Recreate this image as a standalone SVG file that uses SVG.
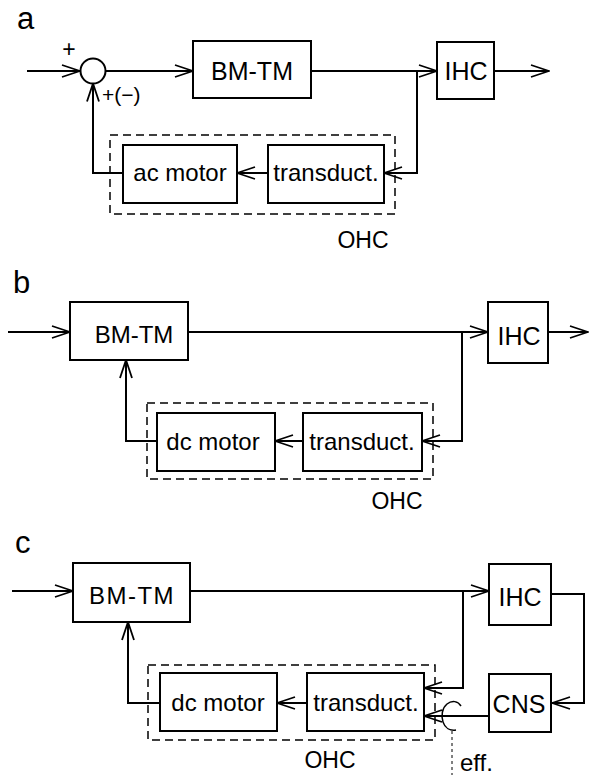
<svg xmlns="http://www.w3.org/2000/svg" width="592" height="775" viewBox="0 0 592 775">
<style>
.box{fill:none;stroke:#000;stroke-width:2}
.ohc{fill:none;stroke:#000;stroke-width:1.5;stroke-dasharray:8,5}
.ln{fill:none;stroke:#000;stroke-width:2}
.t{font-family:"Liberation Sans",Arial,sans-serif;font-size:24px;fill:#000;text-anchor:middle}
.lab{font-family:"Liberation Sans",Arial,sans-serif;font-size:31px;fill:#000}
.s{font-family:"Liberation Sans",Arial,sans-serif;font-size:23px;fill:#000}
</style>
<defs>
<marker id="ar" markerUnits="userSpaceOnUse" viewBox="0 0 20 14" markerWidth="20" markerHeight="14" refX="19" refY="7" orient="auto">
<path d="M1,1 L19,7 L1,13" fill="none" stroke="#000" stroke-width="1.8"/>
</marker>
</defs>
<rect width="592" height="775" fill="#fff"/>

<!-- Panel a -->
<text class="lab" x="17" y="29">a</text>
<g id="a-sum"><circle cx="93" cy="71" r="12.5" class="box"/></g>
<text class="s" x="69" y="57" text-anchor="middle">+</text>
<text class="s" x="102" y="102" style="font-size:21px">+(−)</text>
<g id="a-bmtm"><rect class="box" x="193" y="41" width="118" height="57"/><text class="t" x="252" y="80" style="font-size:25px">BM-TM</text></g>
<g id="a-ihc"><rect class="box" x="437" y="42" width="57" height="57"/><text class="t" x="466" y="80" style="font-size:25px">IHC</text></g>
<g id="a-ohc"><rect class="ohc" x="110" y="135" width="285" height="79"/><text class="s" x="363" y="248" text-anchor="middle">OHC</text></g>
<g id="a-acmotor"><rect class="box" x="123" y="145" width="114" height="58"/><text class="t" x="180" y="181">ac motor</text></g>
<g id="a-transduct"><rect class="box" x="268" y="145" width="116" height="58"/><text class="t" x="326" y="181">transduct.</text></g>

<!-- Panel b -->
<text class="lab" x="13" y="293">b</text>
<g id="b-bmtm"><rect class="box" x="70" y="302" width="118" height="58"/><text class="t" x="134" y="343">BM-TM</text></g>
<g id="b-ihc"><rect class="box" x="488" y="302" width="60" height="61"/><text class="t" x="519" y="345" style="font-size:25px">IHC</text></g>
<g id="b-ohc"><rect class="ohc" x="147" y="403" width="286" height="76"/><text class="s" x="397" y="509" text-anchor="middle">OHC</text></g>
<g id="b-dcmotor"><rect class="box" x="157" y="413" width="118" height="58"/><text class="t" x="213" y="450">dc motor</text></g>
<g id="b-transduct"><rect class="box" x="303" y="413" width="119" height="58"/><text class="t" x="362" y="450">transduct.</text></g>

<!-- Panel c -->
<text class="lab" x="15" y="553">c</text>
<g id="c-bmtm"><rect class="box" x="73" y="563" width="117" height="59"/><text class="t" x="132" y="604" style="letter-spacing:1.5px">BM-TM</text></g>
<g id="c-ihc"><rect class="box" x="489" y="564" width="62" height="61"/><text class="t" x="520" y="606" style="font-size:25px">IHC</text></g>
<g id="c-cns"><rect class="box" x="489" y="674" width="62" height="58"/><text class="t" x="519" y="713" style="font-size:25px">CNS</text></g>
<g id="c-ohc"><rect class="ohc" x="148" y="665" width="287" height="75"/><text class="s" x="330" y="768" text-anchor="middle">OHC</text></g>
<g id="c-dcmotor"><rect class="box" x="160" y="673" width="117" height="58"/><text class="t" x="218" y="711">dc motor</text></g>
<g id="c-transduct"><rect class="box" x="307" y="673" width="117" height="58"/><text class="t" x="366" y="711">transduct.</text></g>
<g id="c-eff"><text class="s" x="460" y="771" style="font-size:24px">eff.</text></g>

<g id="connectors">
<!-- a -->
<path class="ln" d="M27,71 H80" marker-end="url(#ar)"/>
<path class="ln" d="M105.5,71 H193" marker-end="url(#ar)"/>
<path class="ln" d="M311,71 H437" marker-end="url(#ar)"/>
<path class="ln" d="M494,71 H549" marker-end="url(#ar)"/>
<path class="ln" d="M417,71 V173 H384" marker-end="url(#ar)"/>
<path class="ln" d="M268,173 H237" marker-end="url(#ar)"/>
<path class="ln" d="M123,173 H93 V83.5" marker-end="url(#ar)"/>
<!-- b -->
<path class="ln" d="M8,332 H70" marker-end="url(#ar)"/>
<path class="ln" d="M188,332 H488" marker-end="url(#ar)"/>
<path class="ln" d="M548,332 H588" marker-end="url(#ar)"/>
<path class="ln" d="M462,332 V441 H422" marker-end="url(#ar)"/>
<path class="ln" d="M303,441 H275" marker-end="url(#ar)"/>
<path class="ln" d="M157,441 H126 V360" marker-end="url(#ar)"/>
<!-- c -->
<path class="ln" d="M12,591 H73" marker-end="url(#ar)"/>
<path class="ln" d="M190,591 H489" marker-end="url(#ar)"/>
<path class="ln" d="M551,594 H584 V703 H552" marker-end="url(#ar)"/>
<path class="ln" d="M463,591 V688 H424" marker-end="url(#ar)"/>
<path class="ln" d="M489,716 H424" marker-end="url(#ar)"/>
<path class="ln" d="M307,703 H277" marker-end="url(#ar)"/>
<path class="ln" d="M160,703 H128 V622" marker-end="url(#ar)"/>
<path fill="none" stroke="#000" stroke-width="1.5" d="M461,706 C458,701 452,700 447,704 C442,708 441,716 443,722 C445,728 450,731 456,730"/>
<path fill="none" stroke="#000" stroke-width="1" stroke-dasharray="3,3" d="M452,731 V775"/>
</g>
</svg>
